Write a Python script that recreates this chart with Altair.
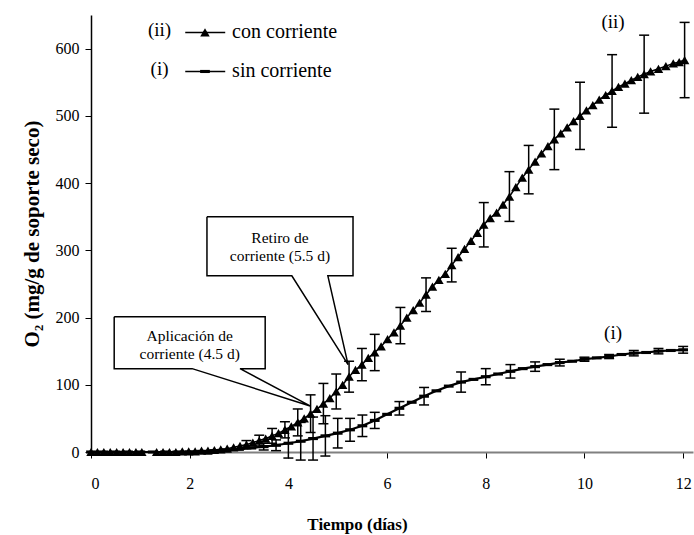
import altair as alt
import pandas as pd

FONT = "'Liberation Serif', 'Times New Roman', Times, serif"

# Series (ii): con corriente  (days, mg/g)
ii_x = [0, 0.13, 0.26, 0.39, 0.52, 0.65, 0.78, 0.91, 1.03,
        1.33, 1.46, 1.59, 1.72, 1.85, 1.98, 2.11, 2.24, 2.37, 2.5,
        2.63, 2.76, 2.89, 3.02, 3.15, 3.28, 3.41, 3.54, 3.67, 3.80,
        3.93, 4.06, 4.19, 4.32, 4.45, 4.58, 4.71, 4.84, 4.97, 5.10,
        5.23, 5.36, 5.49, 5.62, 5.75, 5.88, 6.01, 6.14, 6.27, 6.40,
        6.53, 6.66, 6.79, 6.92, 7.05, 7.18, 7.31, 7.44, 7.57, 7.70,
        7.83, 7.96, 8.09, 8.22, 8.35, 8.48, 8.61, 8.74, 8.87, 9.00,
        9.13, 9.26, 9.39, 9.52, 9.65, 9.78, 9.91, 10.04, 10.17, 10.30,
        10.43, 10.56, 10.69, 10.82, 10.95, 11.08, 11.21, 11.34, 11.50, 11.65,
        11.80, 11.92, 12.03]
ii_y = [0, 0, 0, 0, 0, 0, 0, 0, 0,
        0, 0, 0, 0, 1, 1, 1, 2, 2, 3,
        4, 5, 7, 9, 11, 14, 17, 20, 24, 28,
        33, 38, 44, 50, 57, 64, 72, 80, 90, 100,
        112, 122, 130, 140, 148, 157, 168, 178, 188, 200,
        211, 222, 234, 246, 256, 265, 278, 290, 302, 314,
        326, 338, 348, 356, 368, 380, 394, 408, 420, 432,
        444, 455, 465, 474, 483, 492, 500, 508, 516, 524,
        531, 537, 543, 548, 553, 558, 562, 566, 570, 574,
        578, 580, 583]

# Series (i): sin corriente
i_x = [0, 0.25, 0.5, 0.75, 1.0, 1.25, 1.5, 1.75, 2.0, 2.25,
       2.5, 2.75, 3.0, 3.25, 3.5, 3.75, 4.0, 4.25, 4.5, 4.75,
       5.0, 5.25, 5.5, 5.75, 6.0, 6.25, 6.5, 6.75, 7.0, 7.25,
       7.5, 7.75, 8.0, 8.25, 8.5, 8.75, 9.0, 9.25, 9.5, 9.75,
       10.0, 10.25, 10.5, 10.75, 11.0, 11.25, 11.5, 11.75, 12.0]
i_y = [0, 0, 0, 0, 0, 0, 0, 0, 0, 1,
       2, 3, 4, 6, 8, 10, 13, 16, 20, 24,
       28, 33, 39, 47, 56, 65, 74, 83, 91, 98,
       104, 108, 112, 116, 120, 124, 127, 130, 133, 135,
       138, 140, 142, 145, 147, 148, 150, 151, 152]

# Error bars (standard deviations)
ii_err_x = [3.15, 3.41, 3.67, 3.93, 4.19, 4.45, 4.71, 4.97, 5.23, 5.49, 5.75,
            6.27, 6.79, 7.31, 7.96, 8.48, 8.87, 9.39, 9.91, 10.56, 11.21, 12.03]
ii_err_sd = [6, 8, 11, 12, 20, 28, 30, 26, 23, 24, 27,
             27, 25, 25, 33, 37, 36, 45, 50, 54, 58, 56]
i_err_x = [3.5, 3.75, 4.0, 4.25, 4.5, 4.75, 5.0, 5.25, 5.5, 5.75,
           6.25, 6.75, 7.5, 8.0, 8.5, 9.0, 9.5, 10.0, 10.5, 11.0, 11.5, 12.0]
i_err_sd = [5, 8, 22, 28, 32, 30, 22, 17, 16, 12,
            10, 13, 15, 12, 10, 7, 5, 3, 3, 4, 4, 5]

x_ticks = [0, 2, 4, 6, 8, 10, 12]
y_ticks = [0, 100, 200, 300, 400, 500, 600]

# ---------------------------------------------------------------
ii_map = dict(zip(ii_x, ii_y))
i_map = dict(zip(i_x, i_y))

df_ii = pd.DataFrame({"t": ii_x, "v": ii_y})
df_i = pd.DataFrame({"t": i_x, "v": i_y})
err_rows = []
for t, sd in zip(ii_err_x, ii_err_sd):
    err_rows.append({"t": t, "lo": ii_map[t] - sd, "hi": ii_map[t] + sd, "s": "ii"})
for t, sd in zip(i_err_x, i_err_sd):
    err_rows.append({"t": t, "lo": i_map[t] - sd, "hi": i_map[t] + sd, "s": "i"})
df_err = pd.DataFrame(err_rows)

xscale = alt.Scale(domain=[0, 12.2], nice=False, zero=False)
yscale = alt.Scale(domain=[0, 650], nice=False)

X = alt.X("t:Q", scale=xscale, title="Tiempo (días)",
          axis=alt.Axis(values=x_ticks, grid=False, domainColor="#808080", domainWidth=2,
                        tickColor="black", tickSize=6, tickWidth=1,
                        labelFont=FONT, labelFontSize=16, labelColor="black", labelPadding=17,
                        titleFont=FONT, titleFontSize=17, titleFontWeight="bold", titleColor="black",
                        titlePadding=25, titleX=266, titleAlign="center"))
Y = alt.Y("v:Q", scale=yscale, title="O₂ (mg/g de soporte seco)",
          axis=alt.Axis(values=y_ticks, grid=False, domainColor="black", domainWidth=1.5,
                        tickColor="black", tickSize=6, tickWidth=1,
                        labelFont=FONT, labelFontSize=16, labelColor="black", labelPadding=6,
                        titleFont=FONT, titleFontSize=21, titleFontWeight="bold", titleColor="black",
                        titlePadding=13))

TRI = 90
DASH = "M-1,-0.32H1V0.32H-1Z"
DSZ = 95

line_ii = alt.Chart(df_ii).mark_line(color="black", strokeWidth=1.5).encode(x=X, y=Y)
pts_ii = alt.Chart(df_ii).mark_point(shape="triangle-up", filled=True, size=TRI, color="black",
                                     opacity=1).encode(x="t:Q", y="v:Q")
line_i = alt.Chart(df_i).mark_line(color="black", strokeWidth=2.2).encode(x="t:Q", y="v:Q")
pts_i = alt.Chart(df_i).mark_point(shape=DASH, filled=True, size=DSZ, color="black",
                                   opacity=1).encode(x="t:Q", y="v:Q")

err_rule = alt.Chart(df_err).mark_rule(color="black", strokeWidth=1.5).encode(
    x="t:Q", y="lo:Q", y2="hi:Q")
cap_lo = alt.Chart(df_err).mark_tick(color="black", orient="horizontal", size=10,
                                      thickness=1.5, opacity=1).encode(x="t:Q", y="lo:Q")
cap_hi = alt.Chart(df_err).mark_tick(color="black", orient="horizontal", size=10,
                                      thickness=1.5, opacity=1).encode(x="t:Q", y="hi:Q")

# Legend (drawn in data coordinates)
leg_lines = pd.DataFrame({"t": [1.91, 2.72, 1.91, 2.72], "v": [624, 624, 566, 566],
                          "k": ["a", "a", "b", "b"]})
leg_l = alt.Chart(leg_lines).mark_line(color="black", strokeWidth=1.5).encode(
    x="t:Q", y="v:Q", detail="k:N")
leg_tri = alt.Chart(pd.DataFrame({"t": [2.31], "v": [624]})).mark_point(
    shape="triangle-up", filled=True, size=TRI, color="black", opacity=1).encode(x="t:Q", y="v:Q")
leg_dash = alt.Chart(pd.DataFrame({"t": [2.31], "v": [566]})).mark_point(
    shape=DASH, filled=True, size=DSZ, color="black", opacity=1).encode(x="t:Q", y="v:Q")
leg_txt = pd.DataFrame({"t": [1.39, 1.39, 2.86, 2.86, 10.58, 10.58],
                        "v": [628, 569, 625, 566, 640, 177],
                        "s": ["(ii)", "(i)", "con corriente", "sin corriente", "(ii)", "(i)"],
                        "a": ["center", "center", "left", "left", "center", "center"]})
leg_t1 = alt.Chart(leg_txt[leg_txt.a == "center"]).mark_text(
    font=FONT, fontSize=19, color="black", align="center", baseline="middle").encode(
    x="t:Q", y="v:Q", text="s:N")
leg_t2 = alt.Chart(leg_txt[leg_txt.a == "left"]).mark_text(
    font=FONT, fontSize=20, color="black", align="left", baseline="middle").encode(
    x="t:Q", y="v:Q", text="s:N")

# Callouts
co = pd.DataFrame({
    "t": [2.35, 5.31, 5.31, 4.80, 5.21, 4.07, 2.35, 2.35,
          0.47, 3.53, 3.53, 3.02, 4.44, 2.05, 0.47, 0.47],
    "v": [350, 350, 262, 262, 130, 262, 262, 350,
          201, 201, 124, 124, 68.5, 124, 124, 201],
    "k": ["r"] * 8 + ["a"] * 8,
    "o": list(range(8)) + list(range(8)),
})
co_line = alt.Chart(co).mark_line(color="black", strokeWidth=1.5).encode(
    x="t:Q", y="v:Q", detail="k:N", order="o:Q")
co_txt = pd.DataFrame({"t": [3.83, 3.83, 2.0, 2.0], "v": [319, 292, 173, 146],
                       "s": ["Retiro de", "corriente (5.5 d)", "Aplicación de", "corriente (4.5 d)"]})
co_t = alt.Chart(co_txt).mark_text(font=FONT, fontSize=15.5, color="black",
                                   align="center", baseline="middle").encode(
    x="t:Q", y="v:Q", text="s:N")

chart = alt.layer(
    line_i, line_ii, err_rule, cap_lo, cap_hi, pts_i, pts_ii,
    leg_l, leg_tri, leg_dash, leg_t1, leg_t2, co_line, co_t
).properties(
    width=602, height=437, autosize="none",
    padding={"left": 91, "top": 15, "right": 1, "bottom": 83},
    background="white",
).configure_view(stroke=None)

chart.save("out.html", embed_options={"renderer": "svg", "actions": False})
